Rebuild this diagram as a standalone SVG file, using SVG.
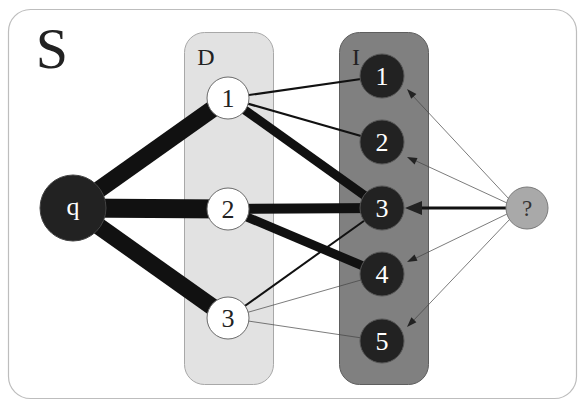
<svg xmlns="http://www.w3.org/2000/svg" width="578" height="403" viewBox="0 0 578 403">
  <style>
    text { font-family: "Liberation Serif", "DejaVu Serif", "Times New Roman", serif; text-anchor: middle; }
    .dn { fill: #ffffff; stroke: #6a6a6a; stroke-width: 1; }
    .inode { fill: #222222; stroke: #555555; stroke-width: 1; }
    .wt { fill: #ffffff; font-size: 26px; }
    .bt { fill: #222222; font-size: 26px; }
    .e { stroke: #111111; stroke-linecap: butt; fill: none; }
    .faint { stroke: #444444; stroke-width: 0.7; fill: none; }
    .head { fill: #222222; stroke: none; }
  </style>

  <!-- outer frame S -->
  <g id="frame">
    <rect x="8.5" y="9.5" width="568" height="389" rx="22" fill="#ffffff" stroke="#bdbdbd" stroke-width="1.2"/>
    <text x="52" y="68" font-size="58" fill="#222222">S</text>
  </g>

  <!-- panels -->
  <g id="panel-D">
    <rect x="184.5" y="32.5" width="89" height="352" rx="20" fill="#e2e2e2" stroke="#a8a8a8" stroke-width="1"/>
    <text x="206" y="65" font-size="24" fill="#222222">D</text>
  </g>
  <g id="panel-I">
    <rect x="339.5" y="32.5" width="89" height="352" rx="20" fill="#808080" stroke="#5e5e5e" stroke-width="1"/>
    <text x="356" y="65" font-size="24" fill="#222222">I</text>
  </g>

  <!-- connectors -->
  <g id="connectors">
    <line class="e" x1="73" y1="208" x2="228" y2="98" stroke-width="17"/>
    <line class="e" x1="73" y1="208" x2="228" y2="209" stroke-width="19"/>
    <line class="e" x1="73" y1="208" x2="228" y2="318" stroke-width="17"/>

    <line class="e" x1="228" y1="98" x2="382" y2="76" stroke-width="2.2"/>
    <line class="e" x1="228" y1="98" x2="382" y2="142" stroke-width="2.2"/>
    <line class="e" x1="228" y1="98" x2="382" y2="208" stroke-width="9"/>
    <line class="e" x1="228" y1="209" x2="382" y2="208" stroke-width="10"/>
    <line class="e" x1="228" y1="209" x2="382" y2="274" stroke-width="9"/>
    <line class="e" x1="228" y1="318" x2="382" y2="208" stroke-width="2"/>
    <line class="faint" x1="228" y1="318" x2="382" y2="274"/>
    <line class="faint" x1="228" y1="318" x2="382" y2="341"/>

    <!-- strong link from ? to I3 -->
    <line class="e" x1="506" y1="208" x2="420" y2="208" stroke-width="3"/>
    <polygon class="head" points="405,208 422,201 422,215"/>

    <!-- weak links from ? -->
    <line class="faint" x1="509" y1="199" x2="412" y2="95"/>
    <polygon class="head" points="407,89 416.4,94 411.2,98.7"/>
    <line class="faint" x1="507" y1="203" x2="414" y2="160"/>
    <polygon class="head" points="407,157 417.5,158 414.6,164.4"/>
    <line class="faint" x1="507" y1="214" x2="414" y2="259"/>
    <polygon class="head" points="407,262 414.5,254.5 417.5,260.8"/>
    <line class="faint" x1="510" y1="219" x2="412" y2="322"/>
    <polygon class="head" points="407,327 411.4,317.3 416.4,322.2"/>
  </g>

  <!-- nodes -->
  <g id="node-q">
    <circle cx="73" cy="208" r="33" fill="#222222" stroke="#444444" stroke-width="1"/>
    <text class="wt" x="73" y="215" font-size="25">q</text>
  </g>
  <g id="node-D1">
    <circle class="dn" cx="228" cy="98" r="21"/>
    <text class="bt" x="228" y="107">1</text>
  </g>
  <g id="node-D2">
    <circle class="dn" cx="228" cy="209" r="21"/>
    <text class="bt" x="228" y="218">2</text>
  </g>
  <g id="node-D3">
    <circle class="dn" cx="228" cy="318" r="21"/>
    <text class="bt" x="228" y="327">3</text>
  </g>
  <g id="node-I1">
    <circle class="inode" cx="382" cy="76" r="22"/>
    <text class="wt" x="382" y="85">1</text>
  </g>
  <g id="node-I2">
    <circle class="inode" cx="382" cy="142" r="22"/>
    <text class="wt" x="382" y="151">2</text>
  </g>
  <g id="node-I3">
    <circle class="inode" cx="382" cy="208" r="22"/>
    <text class="wt" x="382" y="217">3</text>
  </g>
  <g id="node-I4">
    <circle class="inode" cx="382" cy="274" r="22"/>
    <text class="wt" x="382" y="283">4</text>
  </g>
  <g id="node-I5">
    <circle class="inode" cx="382" cy="341" r="22"/>
    <text class="wt" x="382" y="350">5</text>
  </g>
  <g id="node-unknown">
    <circle cx="527" cy="208" r="21" fill="#a9a9a9" stroke="#7a7a7a" stroke-width="1"/>
    <text x="527" y="216" font-size="23" fill="#333333">?</text>
  </g>
</svg>
